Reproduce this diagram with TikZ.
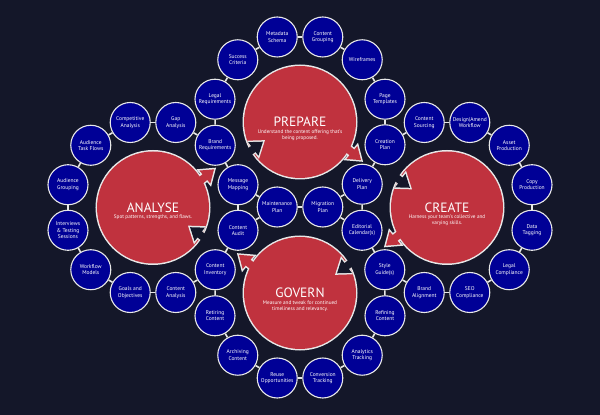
\documentclass[tikz,border=0pt]{standalone}
\usepackage{fontspec}
\setmainfont{PT Sans}
\usetikzlibrary{calc}
\definecolor{bgc}{HTML}{141729}
\definecolor{redc}{HTML}{C0323E}
\definecolor{bluec}{HTML}{000096}
\definecolor{edgec}{HTML}{E8E8E8}
\newcommand{\myarrow}[3]{\path[shift={#1},rotate=#2,#3] (0,0) -- (-12,8.5) -- (-12,3.7) -- (-27,3.7) -- (-27,-3.7) -- (-12,-3.7) -- (-12,-8.5) -- cycle;}
\tikzset{
 sm/.style={circle, minimum size=40pt, inner sep=0pt, fill=bluec, draw=edgec, line width=1.1pt, text=white, align=center, font=\fontsize{5.5}{6.3}\selectfont},
 conn/.style={draw=edgec, line width=1.6pt},
 ttl/.style={text=white, font=\fontsize{13.5}{14}\selectfont, inner sep=0pt},
 sub/.style={text=white, font=\fontsize{5.2}{5.9}\selectfont, align=center, inner sep=0pt},
}
\begin{document}
\begin{tikzpicture}[x=1pt,y=1pt]
\fill[bgc] (0,0) rectangle (600,415);
\useasboundingbox (0,0) rectangle (600,415);
\coordinate (P) at (300,293);
\coordinate (G) at (300,122);
\coordinate (A) at (153,207.5);
\coordinate (C) at (447,207.5);
% big circles with outgoing red arrows
\foreach \c in {P,C,G,A} \draw[edgec, line width=3pt] (\c) circle (56);
\myarrow{($(P)+(-32:72)$)}{-40}{draw=edgec, line width=3pt}
\myarrow{($(C)+(212:72)$)}{220}{draw=edgec, line width=3pt}
\myarrow{($(G)+(148:72)$)}{140}{draw=edgec, line width=3pt}
\myarrow{($(A)+(32:72)$)}{40}{draw=edgec, line width=3pt}
\foreach \c in {P,C,G,A} \fill[redc] (\c) circle (56);
\myarrow{($(P)+(-32:72)$)}{-40}{fill=redc}
\myarrow{($(C)+(212:72)$)}{220}{fill=redc}
\myarrow{($(G)+(148:72)$)}{140}{fill=redc}
\myarrow{($(A)+(32:72)$)}{40}{fill=redc}
% incoming dark arrows
\begin{scope}\clip (P) circle (56);\myarrow{($(P)+(208:42)$)}{37}{draw=edgec, line width=3pt}\end{scope}
\myarrow{($(P)+(208:42)$)}{37}{fill=bgc}
\begin{scope}\clip (C) circle (56);\myarrow{($(C)+(152:42)$)}{-37}{draw=edgec, line width=3pt}\end{scope}
\myarrow{($(C)+(152:42)$)}{-37}{fill=bgc}
\begin{scope}\clip (G) circle (56);\myarrow{($(G)+(28:42)$)}{217}{draw=edgec, line width=3pt}\end{scope}
\myarrow{($(G)+(28:42)$)}{217}{fill=bgc}
\begin{scope}\clip (A) circle (56);\myarrow{($(A)+(-28:42)$)}{143}{draw=edgec, line width=3pt}\end{scope}
\myarrow{($(A)+(-28:42)$)}{143}{fill=bgc}
% titles
\node[ttl] (tP) at (P) {PREPARE};
\node[sub, anchor=north] (sP) at ($(P)+(0,-7.5)$) {Understand the content offering that's\\being proposed.};
\node[ttl] (tC) at (C) {CREATE};
\node[sub, anchor=north] (sC) at ($(C)+(0,-7.5)$) {Harness your team's collective and\\varying skills.};
\node[ttl] (tG) at (G) {GOVERN};
\node[sub, anchor=north] (sG) at ($(G)+(0,-7.5)$) {Measure and tweak for continued\\timeliness and relevancy.};
\node[ttl] (tA) at (A) {ANALYSE};
\node[sub, anchor=north] (sA) at ($(A)+(0,-7.5)$) {Spot patterns, strengths, and flaws.};
% ANALYSE ring
\node[sm] (mm) at ($(A)+(15:88)$) {Message\\Mapping};
\node[sm] (br) at ($(A)+(45:88)$) {Brand\\Requirements};
\node[sm] (gap) at ($(A)+(75:88)$) {Gap\\Analysis};
\node[sm] (comp) at ($(A)+(105:88)$) {Competitive\\Analysis};
\node[sm] (atf) at ($(A)+(135:88)$) {Audience\\Task Flows};
\node[sm] (ag) at ($(A)+(165:88)$) {Audience\\Grouping};
\node[sm] (its) at ($(A)+(195:88)$) {Interviews\\\& Testing\\Sessions};
\node[sm] (wm) at ($(A)+(225:88)$) {Workflow\\Models};
\node[sm] (go) at ($(A)+(255:88)$) {Goals and\\Objectives};
\node[sm] (ca) at ($(A)+(285:88)$) {Content\\Analysis};
\node[sm] (ci) at ($(A)+(315:88)$) {Content\\Inventory};
\node[sm] (cau) at ($(A)+(345:88)$) {Content\\Audit};
% PREPARE ring
\node[sm] (pt) at ($(P)+(15:88)$) {Page\\Templates};
\node[sm] (wf) at ($(P)+(45:88)$) {Wireframes};
\node[sm] (cg) at ($(P)+(75:88)$) {Content\\Grouping};
\node[sm] (ms) at ($(P)+(105:88)$) {Metadata\\Schema};
\node[sm] (sc) at ($(P)+(135:88)$) {Success\\Criteria};
\node[sm] (lr) at ($(P)+(165:88)$) {Legal\\Requirements};
\node[sm] (maint) at ($(P)+(255:88)$) {Maintenance\\Plan};
\node[sm] (migr) at ($(P)+(285:88)$) {Migration\\Plan};
\node[sm] (dp) at ($(P)+(315:88)$) {Delivery\\Plan};
\node[sm] (cp) at ($(P)+(345:88)$) {Creation\\Plan};
% CREATE ring
\node[sm] (copy) at ($(C)+(15:88)$) {Copy\\Production};
\node[sm] (asset) at ($(C)+(45:88)$) {Asset\\Production};
\node[sm] (design) at ($(C)+(75:88)$) {Design|Amend\\Workflow};
\node[sm] (cs) at ($(C)+(105:88)$) {Content\\Sourcing};
\node[sm] (ec) at ($(C)+(195:88)$) {Editorial\\Calendar(s)};
\node[sm] (sg) at ($(C)+(225:88)$) {Style\\Guide(s)};
\node[sm] (ba) at ($(C)+(255:88)$) {Brand\\Alignment};
\node[sm] (seo) at ($(C)+(285:88)$) {SEO\\Compliance};
\node[sm] (lc) at ($(C)+(315:88)$) {Legal\\Compliance};
\node[sm] (dt) at ($(C)+(345:88)$) {Data\\Tagging};
% GOVERN ring
\node[sm] (ret) at ($(G)+(195:88)$) {Retiring\\Content};
\node[sm] (arch) at ($(G)+(225:88)$) {Archiving\\Content};
\node[sm] (reuse) at ($(G)+(255:88)$) {Reuse\\Opportunities};
\node[sm] (conv) at ($(G)+(285:88)$) {Conversion\\Tracking};
\node[sm] (atr) at ($(G)+(315:88)$) {Analytics\\Tracking};
\node[sm] (ref) at ($(G)+(345:88)$) {Refining\\Content};
% connectors
\foreach \u/\v in {mm/br, br/gap, gap/comp, comp/atf, atf/ag, ag/its, its/wm, wm/go, go/ca, ca/ci, ci/cau, cau/mm,
  pt/wf, wf/cg, cg/ms, ms/sc, sc/lr, lr/br, mm/maint, maint/migr, migr/dp, dp/cp, cp/pt,
  copy/asset, asset/design, design/cs, cs/cp, dp/ec, ec/sg, sg/ba, ba/seo, seo/lc, lc/dt, dt/copy,
  ec/migr, maint/cau, ci/ret, ret/arch, arch/reuse, reuse/conv, conv/atr, atr/ref, ref/sg}
  \draw[conn] (\u) -- (\v);
\end{tikzpicture}
\end{document}
